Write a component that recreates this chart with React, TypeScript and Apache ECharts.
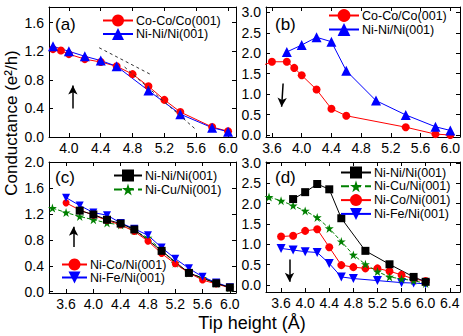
import React, { useEffect, useRef } from "react";
import * as echarts from "echarts";

const FONT = "'Liberation Sans', Arial, Helvetica, sans-serif";

// ---- panel (a)
const aCoX = [3.8, 3.9, 4.0, 4.2, 4.4, 4.6, 4.8, 5.0, 5.2, 5.4, 5.8, 6.0];
const aCoY = [1.23, 1.21, 1.16, 1.09, 1.05, 0.99, 0.88, 0.71, 0.52, 0.35, 0.14, 0.08];
const aNiX = [3.8, 4.0, 4.2, 4.4, 4.6, 5.0, 5.4, 5.8, 6.0];
const aNiY = [1.27, 1.2, 1.13, 1.07, 0.99, 0.65, 0.32, 0.13, 0.075];
const aTan1X = [4.38, 5.02];
const aTan1Y = [1.25, 0.88];
const aTan2X = [4.7, 5.58];
const aTan2Y = [0.98, 0.12];

// ---- panel (b)
const bCoX = [3.5, 3.6, 3.8, 3.9, 4.0, 4.2, 4.4, 4.6, 5.4, 5.8, 6.0];
const bCoY = [1.72, 1.79, 1.79, 1.64, 1.46, 1.11, 0.64, 0.47, 0.19, 0.02, 0.0];
const bNiX = [3.8, 4.0, 4.2, 4.4, 4.6, 5.0, 5.4, 5.8, 6.0];
const bNiY = [2.03, 2.2, 2.39, 2.28, 1.57, 0.84, 0.49, 0.2, 0.11];

// ---- panel (c)
const cNiX = [3.8, 4.0, 4.2, 4.4, 4.6, 5.0, 5.4, 5.8, 6.0];
const cNiY = [1.25, 1.19, 1.11, 1.05, 0.96, 0.63, 0.29, 0.13, 0.065];
const cCuX = [3.4, 3.6, 3.8, 4.0, 4.2, 4.4, 4.6, 4.8, 5.0, 5.2, 5.4, 5.6, 5.8, 6.0];
const cCuY = [1.29, 1.22, 1.16, 1.11, 1.06, 1.03, 0.94, 0.83, 0.64, 0.44, 0.29, 0.21, 0.13, 0.06];
const cCoX = [3.6, 3.8, 4.0, 4.2, 4.4, 4.6, 4.8, 5.0, 5.2, 5.4, 5.6, 5.8, 6.0];
const cCoY = [1.37, 1.26, 1.18, 1.1, 1.03, 0.93, 0.78, 0.59, 0.43, 0.29, 0.18, 0.12, 0.06];
const cFeX = [3.6, 3.8, 4.0, 4.2, 4.4, 4.6, 4.8, 5.0, 5.2, 5.4, 5.6, 5.8, 6.0];
const cFeY = [1.45, 1.33, 1.22, 1.18, 1.06, 0.97, 0.87, 0.68, 0.51, 0.36, 0.23, 0.14, 0.07];

// ---- panel (d)
const dNiX = [3.8, 4.0, 4.2, 4.4, 4.6, 5.0, 5.4, 5.8, 6.0];
const dNiY = [2.11, 2.28, 2.48, 2.35, 1.64, 0.84, 0.51, 0.2, 0.08];
const dCuX = [3.4, 3.6, 3.8, 4.0, 4.2, 4.4, 4.6, 4.8, 5.0, 5.2, 5.4, 5.6, 5.8, 6.0];
const dCuY = [2.16, 2.07, 1.95, 1.82, 1.66, 1.39, 1.07, 0.74, 0.51, 0.33, 0.2, 0.15, 0.11, 0.04];
const dCoX = [3.6, 3.8, 4.0, 4.2, 4.4, 4.6, 4.8, 5.0, 5.2, 5.4, 5.6, 5.8, 6.0];
const dCoY = [1.19, 1.21, 1.33, 1.37, 0.93, 0.49, 0.44, 0.41, 0.41, 0.34, 0.25, 0.15, 0.1];
const dFeX = [3.6, 3.8, 4.0, 4.2, 4.4, 4.6, 4.8, 5.2, 5.6, 5.8, 6.0];
const dFeY = [0.9, 0.86, 0.82, 0.8, 0.53, 0.2, 0.16, 0.11, 0.06, 0.05, 0.03];

// ---- tick labels
const aXTicks = [4.0, 4.4, 4.8, 5.2, 5.6, 6.0];
const bXTicks = [3.6, 4.0, 4.4, 4.8, 5.2, 5.6, 6.0];
const cXTicks = [3.6, 4.0, 4.4, 4.8, 5.2, 5.6, 6.0];
const dXTicks = [3.6, 4.0, 4.4, 4.8, 5.2, 5.6, 6.0, 6.4];
const aYTicks = [0.0, 0.4, 0.8, 1.2, 1.6];
const bYTicks = [0.0, 0.5, 1.0, 1.5, 2.0, 2.5, 3.0];
const cYTicks = [0.0, 0.4, 0.8, 1.2, 1.6, 2.0];
const dYTicks = [0.0, 0.5, 1.0, 1.5, 2.0, 2.5, 3.0];

// arrows (data coords)
const aArrow = [[4.05, 0.4], [4.05, 0.72]];
const bArrow = [[3.75, 1.26], [3.73, 0.69]];
const cArrow = [[3.71, 0.69], [3.71, 1.0]];
const dArrow = [[3.74, 0.63], [3.74, 0.08]];

const STAR =
  "path://M0,-10L2.245,-3.09L9.511,-3.09L3.633,1.18L5.878,8.09L0,3.82L-5.878,8.09L-3.633,1.18L-9.511,-3.09L-2.245,-3.09Z";
const DTRI = "path://M0,0L10,0L5,10Z";

const RED = "#ff0000";
const BLUE = "#0000ff";
const BLACK = "#000000";
const GREEN = "#008000";

const mk = (xs: number[], ys: number[]) => xs.map((x, i) => [x, ys[i]]);

function ser(
  name: string,
  gi: number,
  xs: number[],
  ys: number[],
  color: string,
  symbol: string,
  size: number,
  dashed = false,
  extra: any = {}
) {
  return {
    type: "line",
    name,
    xAxisIndex: gi,
    yAxisIndex: gi,
    data: mk(xs, ys),
    symbol,
    symbolSize: size,
    showAllSymbol: true,
    itemStyle: { color, borderWidth: 0 },
    lineStyle: { color, width: 1, type: dashed ? "dashed" : "solid" },
    clip: true,
    ...extra,
  };
}

function arrow(pts: number[][]) {
  return {
    silent: true,
    symbol: ["none", "arrow"],
    symbolSize: [7, 9],
    label: { show: false },
    lineStyle: { color: "#000", width: 1.5, type: "solid" },
    data: [[{ coord: pts[0] }, { coord: pts[1] }]],
  };
}

const grids = [
  { left: 49, top: 7, width: 187, height: 130 },
  { left: 266, top: 7, width: 194, height: 130 },
  { left: 49, top: 162, width: 187, height: 131 },
  { left: 266, top: 162, width: 194, height: 130 },
];
const xr = [
  [3.75, 6.1],
  [3.52, 6.13],
  [3.35, 6.09],
  [3.35, 6.57],
];
const yr = [
  [0, 1.82],
  [-0.05, 3.13],
  [-0.02, 2.0],
  [-0.17, 3.02],
];
const xt = [aXTicks, bXTicks, cXTicks, dXTicks];
const yt = [aYTicks, bYTicks, cYTicks, dYTicks];

const axisBase = (show: boolean, ticks: number[], margin: number) => ({
  type: "value",
  axisLine: { show: true, onZero: false, lineStyle: { color: "#000", width: 1 } },
  axisTick: { show: true, inside: true, length: 4, customValues: ticks, lineStyle: { color: "#000" } },
  axisLabel: {
    show,
    customValues: ticks,
    margin,
    color: "#000",
    fontSize: 14,
    fontFamily: FONT,
    formatter: (v: number) => v.toFixed(1),
  },
  splitLine: { show: false },
});

const legendBase = (data: string[], left: number, top: number, w: number, h: number, gap: number) => ({
  data,
  orient: "vertical",
  left,
  top,
  itemWidth: w,
  itemHeight: h,
  itemGap: gap,
  padding: 0,
  selectedMode: false,
  formatter: (n: string) => n.slice(2),
  textStyle: { fontSize: 12.5, lineHeight: 12, color: "#000", fontFamily: FONT, padding: [0, 0, 0, -2] },
});

export default function App() {
  const ref = useRef<HTMLDivElement>(null);
  useEffect(() => {
    if (!ref.current) return;
    const chart = echarts.init(ref.current, null, { renderer: "svg" });

    const xAxis: any[] = [];
    const yAxis: any[] = [];
    for (let i = 0; i < 4; i++) {
      xAxis.push({ ...axisBase(true, xt[i], 4), gridIndex: i, position: "bottom", min: xr[i][0], max: xr[i][1] });
      yAxis.push({ ...axisBase(true, yt[i], 5), gridIndex: i, position: "left", min: yr[i][0], max: yr[i][1] });
    }
    for (let i = 0; i < 4; i++) {
      xAxis.push({ ...axisBase(false, xt[i], 4), gridIndex: i, position: "top", min: xr[i][0], max: xr[i][1] });
      yAxis.push({ ...axisBase(false, yt[i], 5), gridIndex: i, position: "right", min: yr[i][0], max: yr[i][1] });
    }

    const tanStyle = {
      type: "line",
      symbol: "none",
      silent: true,
      z: 5,
      lineStyle: { color: "#333", width: 1, type: [3, 3] },
      xAxisIndex: 0,
      yAxisIndex: 0,
    };

    const series: any[] = [
      { ...tanStyle, name: "tan1", data: mk(aTan1X, aTan1Y) },
      { ...tanStyle, name: "tan2", data: mk(aTan2X, aTan2Y) },
      ser("a:Co-Co/Co(001)", 0, aCoX, aCoY, RED, "circle", 8, false, { markLine: arrow(aArrow) }),
      ser("a:Ni-Ni/Ni(001)", 0, aNiX, aNiY, BLUE, "triangle", 10),
      ser("b:Co-Co/Co(001)", 1, bCoX, bCoY, RED, "circle", 8, false, { markLine: arrow(bArrow) }),
      ser("b:Ni-Ni/Ni(001)", 1, bNiX, bNiY, BLUE, "triangle", 10),
      ser("c:Ni-Cu/Ni(001)", 2, cCuX, cCuY, GREEN, STAR, 9, true, { markLine: arrow(cArrow) }),
      ser("c:Ni-Co/Ni(001)", 2, cCoX, cCoY, RED, "circle", 7),
      ser("c:Ni-Fe/Ni(001)", 2, cFeX, cFeY, BLUE, DTRI, 8),
      ser("c:Ni-Ni/Ni(001)", 2, cNiX, cNiY, BLACK, "rect", 8),
      ser("d:Ni-Fe/Ni(001)", 3, dFeX, dFeY, BLUE, DTRI, 9, false, { markLine: arrow(dArrow) }),
      ser("d:Ni-Co/Ni(001)", 3, dCoX, dCoY, RED, "circle", 8),
      ser("d:Ni-Cu/Ni(001)", 3, dCuX, dCuY, GREEN, STAR, 9, true),
      ser("d:Ni-Ni/Ni(001)", 3, dNiX, dNiY, BLACK, "rect", 8),
    ];

    const option: any = {
      animation: false,
      grid: grids.map((g) => ({ ...g, outerBoundsMode: "none", containLabel: false })),
      xAxis,
      yAxis,
      legend: [
        legendBase(["a:Co-Co/Co(001)", "a:Ni-Ni/Ni(001)"], 102, 14, 30, 15, 0.5),
        legendBase(["b:Co-Co/Co(001)", "b:Ni-Ni/Ni(001)"], 328, 9, 30, 16, 1),
        legendBase(["c:Ni-Ni/Ni(001)", "c:Ni-Cu/Ni(001)"], 113, 169, 28, 15, 1),
        legendBase(["c:Ni-Co/Ni(001)", "c:Ni-Fe/Ni(001)"], 61, 258, 25, 15, 0),
        legendBase(
          ["d:Ni-Ni/Ni(001)", "d:Ni-Cu/Ni(001)", "d:Ni-Co/Ni(001)", "d:Ni-Fe/Ni(001)"],
          340,
          166,
          30,
          15,
          0.8
        ),
      ],
      graphic: [
        { type: "text", x: 55, y: 24, style: { text: "(a)", fontSize: 17, fontFamily: FONT, fill: "#000", verticalAlign: "middle" } },
        { type: "text", x: 275, y: 24, style: { text: "(b)", fontSize: 17, fontFamily: FONT, fill: "#000", verticalAlign: "middle" } },
        { type: "text", x: 55, y: 177, style: { text: "(c)", fontSize: 17, fontFamily: FONT, fill: "#000", verticalAlign: "middle" } },
        { type: "text", x: 275, y: 177, style: { text: "(d)", fontSize: 17, fontFamily: FONT, fill: "#000", verticalAlign: "middle" } },
        {
          type: "text",
          x: 11,
          y: 123,
          rotation: Math.PI / 2,
          style: { text: "Conductance (e²/h)", fontSize: 17, fontFamily: FONT, fill: "#000", align: "center", verticalAlign: "middle" },
        },
        {
          type: "text",
          x: 252,
          y: 323,
          style: { text: "Tip height (Å)", fontSize: 18, fontFamily: FONT, fill: "#000", align: "center", verticalAlign: "middle" },
        },
      ],
      series,
    };
    chart.setOption(option);
    return () => chart.dispose();
  }, []);
  return (
    <div
      ref={ref}
      style={{ position: "fixed", left: 0, top: 0, width: 463, height: 336, background: "#fff" }}
    />
  );
}
